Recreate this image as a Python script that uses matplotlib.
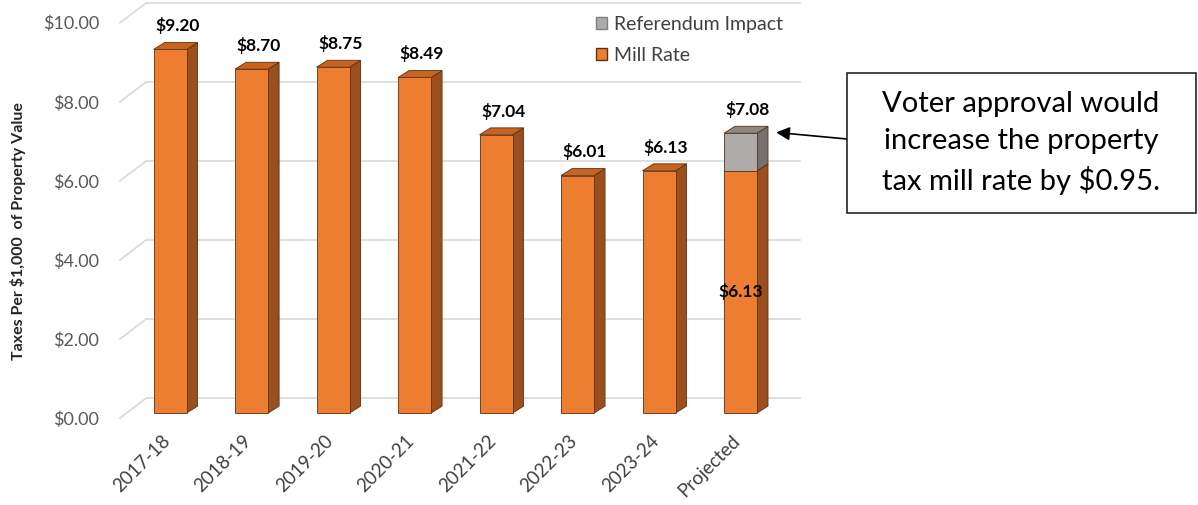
import matplotlib.pyplot as plt
from matplotlib.patches import Polygon, Rectangle, Patch
from matplotlib.transforms import ScaledTranslation

# ==============================
# DATA
# ==============================

years = ["2017-18", "2018-19", "2019-20", "2020-21",
         "2021-22", "2022-23", "2023-24", "Projected"]

mill_rate = [9.20, 8.70, 8.75, 8.49, 7.04, 6.01, 6.13, 6.13]

referendum_impact = [0, 0, 0, 0, 0, 0, 0, 0.95]

y_ticks = [0, 2, 4, 6, 8, 10]

callout_text = "Voter approval would\nincrease the property\ntax mill rate by $0.95."

# ==============================
# STYLE
# ==============================

plt.rcParams["font.family"] = ["Lato", "DejaVu Sans"]

orange = "#ED7D31"
orange_side = "#9C4F1E"
orange_top = "#C8641F"
gray = "#AFABAB"
gray_side = "#767171"
gray_top = "#8C8888"
edge = "#5A3214"
grid_color = "#D9D9D9"

W, H = 1198, 505
fig = plt.figure(figsize=(W / 100, H / 100), dpi=100)

# axes: bar base at 418 px, 40 px per $1, 81.5 px per category
ax = fig.add_axes([120 / W, (H - 418) / H, 680 / W, 418 / H])
ax.set_xlim(-0.615, 7.73)
ax.set_ylim(0, 418 / 40)

for s in ax.spines.values():
    s.set_visible(False)

# front plane sits a bit in front of (below) the bars
front_dy = -5 / 40

# depth of back wall (data units)
wall_dx = 26 / 81.5
wall_dy = 20 / 40

# depth of bars (data units)
bar_w = 0.405
bar_dx = 11 / 81.5
bar_dy = 7 / 40

# ==============================
# BACK WALL GRID
# ==============================

x0, x1 = ax.get_xlim()

for t in y_ticks:
    yf = t + front_dy
    ax.plot([x0 + wall_dx, x1], [yf + wall_dy, yf + wall_dy],
            color=grid_color, lw=1.2, clip_on=False, zorder=0)
    ax.plot([x0, x0 + wall_dx], [yf, yf + wall_dy],
            color=grid_color, lw=1.2, clip_on=False, zorder=0)

# ==============================
# 3D BARS
# ==============================

def draw_bar(x, bottom, height, front, side, top):

    left = x - bar_w / 2
    right = x + bar_w / 2
    ytop = bottom + height

    ax.bar(x, height, bottom=bottom, width=bar_w, color=front,
           edgecolor=edge, linewidth=0.6, zorder=3)

    ax.add_patch(Polygon(
        [(right, bottom), (right, ytop),
         (right + bar_dx, ytop + bar_dy), (right + bar_dx, bottom + bar_dy)],
        closed=True, facecolor=side, edgecolor=edge, linewidth=0.6, zorder=2))

    ax.add_patch(Polygon(
        [(left, ytop), (right, ytop),
         (right + bar_dx, ytop + bar_dy), (left + bar_dx, ytop + bar_dy)],
        closed=True, facecolor=top, edgecolor=edge, linewidth=0.6, zorder=2))


positions = list(range(len(years)))

for i in positions:

    draw_bar(i, 0, mill_rate[i], orange, orange_side, orange_top)

    total = mill_rate[i] + referendum_impact[i]

    if referendum_impact[i] > 0:

        draw_bar(i, mill_rate[i], referendum_impact[i],
                 gray, gray_side, gray_top)

        ax.text(i, mill_rate[i] / 2, f"${mill_rate[i]:.2f}",
                ha="center", va="center", fontsize=12.5,
                fontweight="bold", color="black", zorder=5)

    ax.text(i + bar_dx / 2 + 0.02, total + 0.6, f"${total:.2f}",
            ha="center", va="center", fontsize=12.5,
            fontweight="bold", color="black", zorder=5)

# ==============================
# AXES LABELS
# ==============================

ax.set_yticks([t + front_dy for t in y_ticks])
ax.set_yticklabels([f"${t:.2f}" for t in y_ticks],
                   fontsize=13, color="#595959")
ax.tick_params(axis="y", length=0, pad=15)

ax.set_xticks(positions)
ax.set_xticklabels(years, rotation=45, ha="right",
                   rotation_mode="anchor", fontsize=13.5, color="#404040")
ax.tick_params(axis="x", length=0, pad=10)

shift = ScaledTranslation(-9 / 100, 0, fig.dpi_scale_trans)
for lbl in ax.get_xticklabels():
    lbl.set_transform(lbl.get_transform() + shift)

fig.text(18 / W, 1 - 231 / H, "Taxes Per $1,000  of Property Value",
         rotation=90, ha="center", va="center", fontsize=11.5,
         fontweight="bold", color="#262626")

# ==============================
# LEGEND
# ==============================

handles = [
    Patch(facecolor=gray, edgecolor="#7F7F7F", label="Referendum Impact"),
    Patch(facecolor=orange, edgecolor=edge, label="Mill Rate"),
]

fig.legend(handles=handles, loc="upper left",
           bbox_to_anchor=(596 / W, 1 - 16 / H),
           frameon=False, fontsize=14, labelcolor="#404040",
           borderpad=0, borderaxespad=0,
           handlelength=0.57, handleheight=0.57, handletextpad=0.35,
           labelspacing=0.72)

# ==============================
# CALLOUT
# ==============================

fig.patches.append(Rectangle(
    (847 / W, 1 - 213 / H), 349 / W, 140 / H,
    transform=fig.transFigure, facecolor="white",
    edgecolor="#262626", linewidth=1.2))

fig.text(1021 / W, 1 - 143 / H, callout_text, ha="center", va="center",
         fontsize=21, color="black", linespacing=1.5)

ax.annotate("", xy=(7 + bar_w / 2 + bar_dx + 0.1, 7.1),
            xytext=(847 / W, 1 - 139 / H), textcoords="figure fraction",
            arrowprops=dict(arrowstyle="-|>", color="black", lw=1.2,
                            mutation_scale=20, shrinkA=0, shrinkB=0),
            annotation_clip=False)

fig.savefig("out.png", dpi=100)
